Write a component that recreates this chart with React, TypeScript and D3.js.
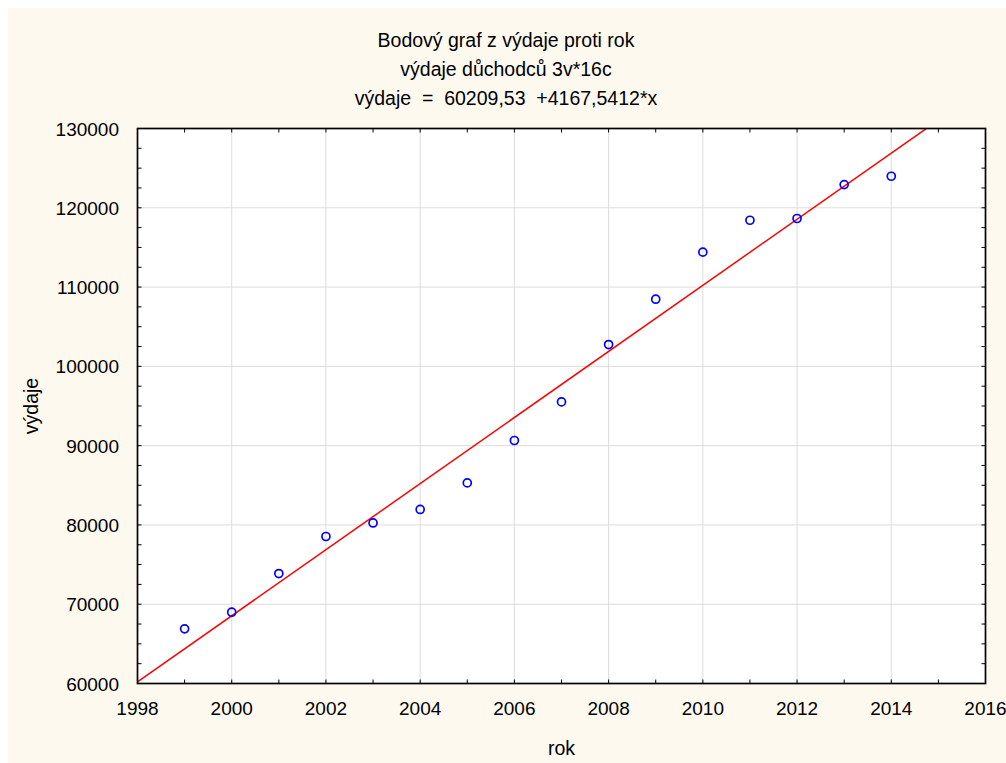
import React from "react";
import * as d3 from "d3";

const years = [1999, 2000, 2001, 2002, 2003, 2004, 2005, 2006, 2007, 2008, 2009, 2010, 2011, 2012, 2013, 2014];
const spending = [66890, 68990, 73870, 78540, 80250, 81950, 85300, 90650, 95520, 102750, 108470, 114400, 118430, 118650, 122930, 123980];
const xTicks = [1998, 2000, 2002, 2004, 2006, 2008, 2010, 2012, 2014, 2016];
const yTicks = [60000, 70000, 80000, 90000, 100000, 110000, 120000, 130000];
const intercept = 60209.53;
const slope = 4167.5412;
const baseYear = 1998;
const titleLines = [
  "Bodový graf z výdaje proti rok",
  "výdaje důchodců 3v*16c",
  "výdaje  =  60209,53  +4167,5412*x",
];
const xLabel = "rok";
const yLabel = "výdaje";

const W = 1006;
const H = 763;
const left = 137.5;
const right = 985.5;
const top = 128.5;
const bottom = 683.5;
const font = "'Liberation Sans', Arial, sans-serif";

export default function App() {
  const x = d3.scaleLinear().domain([1998, 2016]).range([left, right]);
  const y = d3.scaleLinear().domain([60000, 130000]).range([bottom, top]);
  const xMinor = d3.range(1998, 2016.01, 1);
  const yMinor = d3.range(60000, 130001, 2500);
  const line = d3
    .line<number>()
    .x((d) => x(d))
    .y((d) => y(intercept + slope * (d - baseYear)));
  const tl = 4;
  return (
    <svg
      width={W}
      height={H}
      style={{ position: "fixed", left: 0, top: 0, display: "block" }}
    >
      <rect x={0} y={0} width={W} height={H} fill="#ffffff" />
      <rect x={8} y={8} width={W - 8} height={H - 8} fill="#fdf9ef" />
      <rect x={left} y={top} width={right - left} height={bottom - top} fill="#ffffff" />
      <defs>
        <clipPath id="plotclip">
          <rect x={left} y={top} width={right - left} height={bottom - top} />
        </clipPath>
      </defs>
      {/* grid */}
      {xTicks.slice(1, -1).map((t) => (
        <line key={"gx" + t} x1={x(t)} x2={x(t)} y1={top} y2={bottom} stroke="#dcdcdc" strokeWidth={1} />
      ))}
      {yTicks.slice(1, -1).map((t) => (
        <line key={"gy" + t} x1={left} x2={right} y1={y(t)} y2={y(t)} stroke="#dcdcdc" strokeWidth={1} />
      ))}
      {/* regression line */}
      <path
        d={line([1998, 2016]) || ""}
        stroke="#ff0000"
        strokeWidth={1.5}
        fill="none"
        clipPath="url(#plotclip)"
      />
      {/* points */}
      {years.map((yr, i) => (
        <circle
          key={yr}
          cx={x(yr)}
          cy={y(spending[i])}
          r={4}
          fill="none"
          stroke="#0000ff"
          strokeWidth={1.7}
        />
      ))}
      {/* ticks */}
      {xMinor.map((t) => (
        <g key={"tx" + t}>
          <line x1={x(t)} x2={x(t)} y1={bottom} y2={bottom - tl} stroke="#000" strokeWidth={1} />
          <line x1={x(t)} x2={x(t)} y1={top} y2={top + tl} stroke="#000" strokeWidth={1} />
        </g>
      ))}
      {yMinor.map((t) => (
        <g key={"ty" + t}>
          <line x1={left} x2={left + tl} y1={y(t)} y2={y(t)} stroke="#000" strokeWidth={1} />
          <line x1={right} x2={right - tl} y1={y(t)} y2={y(t)} stroke="#000" strokeWidth={1} />
        </g>
      ))}
      <rect
        x={left}
        y={top}
        width={right - left}
        height={bottom - top}
        fill="none"
        stroke="#000"
        strokeWidth={1.7}
      />
      {/* tick labels */}
      {xTicks.map((t) => (
        <text key={"lx" + t} x={x(t)} y={bottom + 31} textAnchor="middle" fontFamily={font} fontSize={19} fill="#000">
          {t}
        </text>
      ))}
      {yTicks.map((t) => (
        <text key={"ly" + t} x={119} y={y(t) + 7} textAnchor="end" fontFamily={font} fontSize={19} fill="#000">
          {t}
        </text>
      ))}
      {/* titles */}
      {titleLines.map((s, i) => (
        <text
          key={"t" + i}
          x={506}
          y={47 + i * 29}
          textAnchor="middle"
          fontFamily={font}
          fontSize={19.5}
          fill="#000"
          style={{ whiteSpace: "pre" }}
        >
          {s}
        </text>
      ))}
      <text x={(left + right) / 2} y={755} textAnchor="middle" fontFamily={font} fontSize={19.5} fill="#000">
        {xLabel}
      </text>
      <text
        transform={`translate(38,${(top + bottom) / 2}) rotate(-90)`}
        textAnchor="middle"
        fontFamily={font}
        fontSize={19.5}
        fill="#000"
      >
        {yLabel}
      </text>
    </svg>
  );
}
